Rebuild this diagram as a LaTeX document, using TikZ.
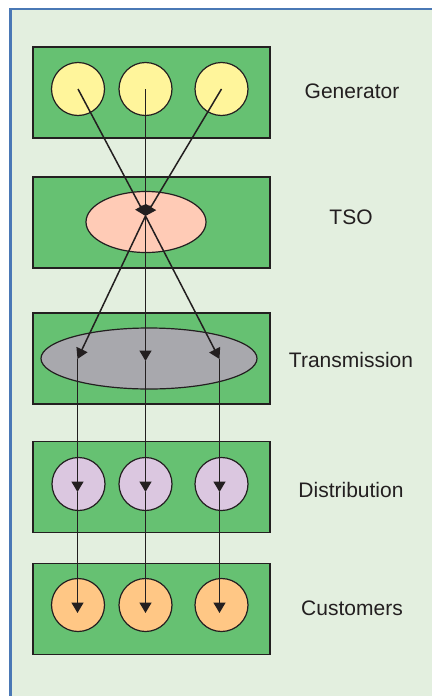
\documentclass[tikz,border=0pt]{standalone}
\usepackage{fontspec}
\setmainfont{Liberation Sans}
\usetikzlibrary{arrows.meta,shapes.geometric}

\definecolor{panelbg}{HTML}{E3EFDF}
\definecolor{framecol}{HTML}{4A78B5}
\definecolor{layerfill}{HTML}{66C172}
\definecolor{inkcol}{HTML}{231F20}
\definecolor{gencol}{HTML}{FFF59B}
\definecolor{tsocol}{HTML}{FFCBB6}
\definecolor{transcol}{HTML}{A8A8AD}
\definecolor{distcol}{HTML}{DBC7E0}
\definecolor{custcol}{HTML}{FFC785}

\tikzset{
  layer/.style={draw=inkcol, line width=1.4pt, fill=layerfill,
    minimum width=237pt, minimum height=91pt, inner sep=0pt},
  unit/.style={circle, draw=inkcol, line width=1.2pt,
    minimum size=53pt, inner sep=0pt},
  oval/.style={ellipse, draw=inkcol, line width=1.2pt, inner sep=0pt},
  label/.style={text=inkcol, font=\fontsize{21}{25}\selectfont},
  flow/.style={draw=inkcol, line width=1.5pt,
    -{Triangle[length=10.5pt,width=12pt]}}
}

\begin{document}
\begin{tikzpicture}[x=1pt,y=-1pt]
\useasboundingbox (0,0) rectangle (431,696);
\fill[white] (0,0) rectangle (431,696);
\draw[framecol, line width=2.5pt, fill=panelbg] (10.5,9) rectangle (450,720);

% layers
\node[layer] (genbox)   at (151.5,92.5) {};
\node[layer] (tsobox)   at (151.5,222.5) {};
\node[layer] (transbox) at (151.5,358.5) {};
\node[layer] (distbox)  at (151.5,487) {};
\node[layer] (custbox)  at (151.5,609) {};

% generators
\node[unit, fill=gencol] (g1) at (78,89) {};
\node[unit, fill=gencol] (g2) at (145.5,89) {};
\node[unit, fill=gencol] (g3) at (221.5,89) {};

% TSO and transmission
\node[oval, fill=tsocol, minimum width=120pt, minimum height=61pt] (tso) at (146,222) {};
\node[oval, fill=transcol, minimum width=216pt, minimum height=61pt] (trans) at (149,358.5) {};

% distribution
\node[unit, fill=distcol] (d1) at (78.5,484) {};
\node[unit, fill=distcol] (d2) at (145.5,484) {};
\node[unit, fill=distcol] (d3) at (221.5,484) {};

% customers
\node[unit, fill=custcol] (c1) at (78,605) {};
\node[unit, fill=custcol] (c2) at (145.5,605) {};
\node[unit, fill=custcol] (c3) at (221.5,605) {};

% junction points of the flows
\coordinate (hub) at (145.5,216);
\coordinate (t1) at (77.5,359);
\coordinate (t2) at (145.5,361);
\coordinate (t3) at (219.5,359);
\coordinate (dt1) at (77.5,492);
\coordinate (dt2) at (145.5,492);
\coordinate (dt3) at (219.5,492);
\coordinate (ct1) at (77.5,613);
\coordinate (ct2) at (145.5,613);
\coordinate (ct3) at (219.5,613);

% flows
\draw[flow] (g1.center) -- (hub);
\draw[flow] (g3.center) -- (hub);
\draw[flow] (g2.center) -- (hub);
\draw[flow] (hub) -- (t1);
\draw[flow] (hub) -- (t2);
\draw[flow] (hub) -- (t3);
\draw[flow] (t1) -- (dt1);
\draw[flow] (t2) -- (dt2);
\draw[flow] (t3) -- (dt3);
\draw[flow] (dt1) -- (ct1);
\draw[flow] (dt2) -- (ct2);
\draw[flow] (dt3) -- (ct3);

% labels
\node[label] (lgen)   at (352,91)  {Generator};
\node[label] (ltso)   at (351,217) {TSO};
\node[label] (ltrans) at (351,360) {Transmission};
\node[label] (ldist)  at (351,490) {Distribution};
\node[label] (lcust)  at (352,608) {Customers};
\end{tikzpicture}
\end{document}
